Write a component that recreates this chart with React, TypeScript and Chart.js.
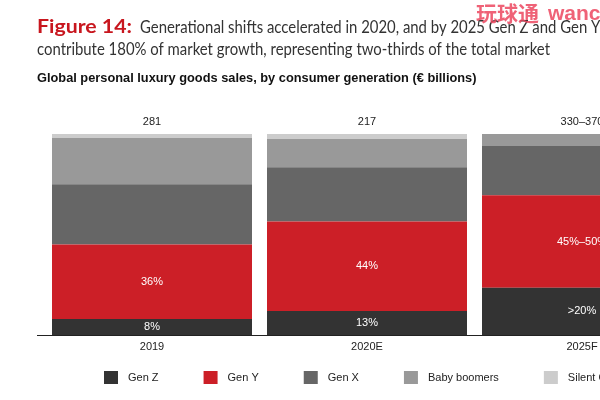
import React, { useEffect, useRef } from "react";
import { Chart, registerables } from "chart.js";

Chart.register(...registerables);

const categories = ["2019", "2020E", "2025F"];
const totals = ["281", "217", "330–370"];
const genZ = [8, 12, 23.5];
const genY = [37, 44.5, 46];
const genX = [30, 27, 24.5];
const boomers = [23, 14, 6];
const silent = [2, 2.5, 0];
const genZLabels = ["8%", "13%", ">20%"];
const genYLabels = ["36%", "44%", "45%–50%"];
const seriesNames = ["Gen Z", "Gen Y", "Gen X", "Baby boomers", "Silent Generation"];
const seriesColors = ["#333333", "#CC1F27", "#666666", "#999999", "#CCCCCC"];

const titleRed = "Figure 14:";
const titleLine1 = "Generational shifts accelerated in 2020, and by 2025 Gen Z and Gen Y will";
const titleLine2 = "contribute 180% of market growth, representing two-thirds of the total market";
const subtitle = "Global personal luxury goods sales, by consumer generation (€ billions)";
const watermarkCJK = "玩球通";
const watermarkLatin = "wancai";

const SANS = '"Liberation Sans", Arial, sans-serif';
const TITLE_FONT = 'Lato, "Noto Sans", sans-serif';

function fitText(ctx: CanvasRenderingContext2D, text: string, x: number, y: number, targetW: number) {
  const w = ctx.measureText(text).width;
  ctx.save();
  ctx.translate(x, y);
  ctx.scale(targetW / w, 1);
  ctx.fillText(text, 0, 0);
  ctx.restore();
}

const decorPlugin = {
  id: "decor",
  beforeDraw(chart: any) {
    const ctx = chart.ctx;
    ctx.save();
    ctx.fillStyle = "#ffffff";
    ctx.fillRect(0, 0, chart.width, chart.height);
    ctx.restore();
  },
  afterDraw(chart: any) {
    const ctx = chart.ctx;
    const yScale = chart.scales.y;
    ctx.save();

    // Title
    ctx.textBaseline = "middle";
    ctx.textAlign = "left";
    ctx.font = `bold 18px ${TITLE_FONT}`;
    ctx.fillStyle = "#C8161E";
    fitText(ctx, titleRed, 37, 27, 95);
    ctx.font = `400 17.5px ${TITLE_FONT}`;
    ctx.fillStyle = "#333333";
    const w2 = ctx.measureText(titleLine2).width;
    const k = 513 / w2;
    ctx.save();
    ctx.translate(140, 27);
    ctx.scale(k, 1);
    ctx.fillText(titleLine1, 0, 0);
    ctx.restore();
    ctx.save();
    ctx.translate(37, 49);
    ctx.scale(k, 1);
    ctx.fillText(titleLine2, 0, 0);
    ctx.restore();

    // Subtitle
    ctx.font = `bold 12.8px ${SANS}`;
    ctx.fillStyle = "#111111";
    ctx.fillText(subtitle, 37, 78);

    // Baseline
    const base = yScale.getPixelForValue(0);
    ctx.strokeStyle = "#222222";
    ctx.lineWidth = 1.2;
    ctx.beginPath();
    ctx.moveTo(37, base + 0.5);
    ctx.lineTo(chart.width, base + 0.5);
    ctx.stroke();

    // Totals above bars
    const meta0 = chart.getDatasetMeta(0);
    ctx.font = `11px ${SANS}`;
    ctx.fillStyle = "#222222";
    ctx.textAlign = "center";
    const topY = yScale.getPixelForValue(100);
    meta0.data.forEach((bar: any, i: number) => {
      ctx.fillText(totals[i], bar.x, topY - 12);
    });

    // Inside labels
    ctx.fillStyle = "#ffffff";
    const drawInside = (dsIndex: number, labels: string[]) => {
      const meta = chart.getDatasetMeta(dsIndex);
      meta.data.forEach((bar: any, i: number) => {
        ctx.fillText(labels[i], bar.x, (bar.y + bar.base) / 2);
      });
    };
    drawInside(0, genZLabels);
    drawInside(1, genYLabels);

    // Legend
    ctx.textAlign = "left";
    ctx.font = `11px ${SANS}`;
    let x = 104;
    const ly = 377.5;
    seriesNames.forEach((name, i) => {
      ctx.fillStyle = seriesColors[i];
      ctx.fillRect(x, ly - 6.5, 14, 13);
      ctx.fillStyle = "#222222";
      ctx.fillText(name, x + 24, ly);
      x += 24 + ctx.measureText(name).width + 45;
    });

    // Watermark
    ctx.fillStyle = "rgba(236, 70, 95, 0.85)";
    ctx.font = `bold 21px "Noto Sans CJK SC", sans-serif`;
    ctx.fillText(watermarkCJK, 476, 13);
    ctx.font = `bold 21px ${SANS}`;
    ctx.fillText(watermarkLatin, 548, 14);

    ctx.restore();
  },
};

export default function App() {
  const ref = useRef<HTMLCanvasElement | null>(null);
  useEffect(() => {
    if (!ref.current) return;
    const series = [genZ, genY, genX, boomers, silent];
    const chart = new Chart(ref.current, {
      type: "bar",
      data: {
        labels: categories,
        datasets: series.map((d, i) => ({
          label: seriesNames[i],
          data: d,
          backgroundColor: seriesColors[i],
          borderWidth: 0,
          categoryPercentage: 200 / 215,
          barPercentage: 1,
        })),
      },
      options: {
        animation: false,
        responsive: false,
        devicePixelRatio: 1,
        layout: { padding: { left: 44.5, right: 30.5, top: 134, bottom: 0 } },
        plugins: {
          legend: { display: false },
          tooltip: { enabled: false },
          title: { display: false },
        },
        scales: {
          x: {
            stacked: true,
            grid: { display: false, drawTicks: false },
            border: { display: false },
            ticks: {
              padding: 5,
              color: "#222222",
              font: { family: SANS, size: 11 },
            },
            afterFit(scale: any) {
              scale.height = 65;
            },
          },
          y: {
            stacked: true,
            min: 0,
            max: 100,
            display: false,
          },
        },
      },
      plugins: [decorPlugin],
    });
    return () => chart.destroy();
  }, []);
  return (
    <div
      style={{
        position: "absolute",
        left: 0,
        top: 0,
        width: 600,
        height: 400,
        overflow: "hidden",
        background: "#fff",
      }}
    >
      <canvas ref={ref} width={720} height={400} style={{ width: 720, height: 400 }} />
    </div>
  );
}
